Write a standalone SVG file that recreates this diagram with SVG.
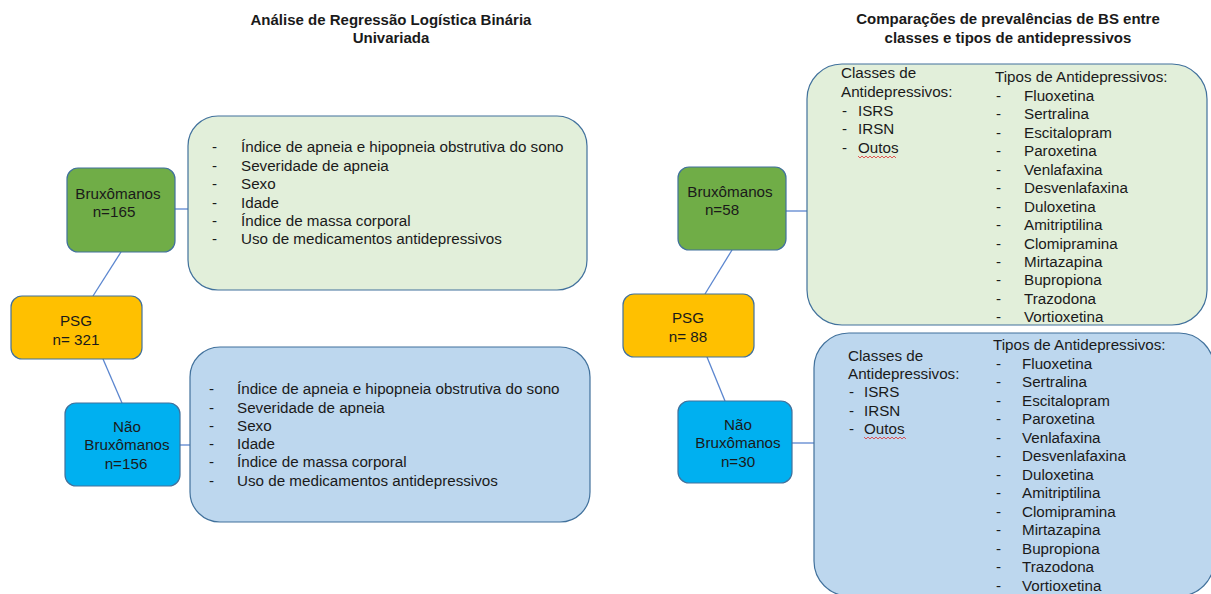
<svg xmlns="http://www.w3.org/2000/svg" width="1211" height="594" viewBox="0 0 1211 594">
<style>
text{font-family:"Liberation Sans",Arial,sans-serif;font-size:15.2px;fill:#1a1a1a}
.t{font-weight:bold;font-size:15px;text-anchor:middle}
.c{text-anchor:middle}
.box{stroke:#41719C;stroke-width:1.2}
.conn{stroke:#5B86CF;stroke-width:1.3;fill:none}
.green{fill:#70AD47}.yellow{fill:#FFC000}.cyan{fill:#00B0F0}
.pg{fill:#E2EFDA}.pb{fill:#BDD7EE}
.wave{stroke:#E03030;stroke-width:0.8;fill:none}
</style>
<rect width="1211" height="594" fill="#ffffff"/>
<g id="titles">
<text class="t" x="391" y="25">Análise de Regressão Logística Binária</text>
<text class="t" x="391" y="43">Univariada</text>
<text class="t" x="1008" y="24">Comparações de prevalências de BS entre</text>
<text class="t" x="1008" y="43">classes e tipos de antidepressivos</text>
</g>
<g id="connectors">
<line class="conn" x1="175" y1="209" x2="188" y2="209"/>
<line class="conn" x1="121" y1="252" x2="93" y2="296"/>
<line class="conn" x1="103" y1="359" x2="122" y2="403"/>
<line class="conn" x1="180" y1="445" x2="190" y2="445"/>
<line class="conn" x1="786" y1="211" x2="807" y2="211"/>
<line class="conn" x1="732" y1="250" x2="705" y2="294"/>
<line class="conn" x1="707" y1="357" x2="725" y2="401"/>
<line class="conn" x1="792" y1="443" x2="814" y2="443"/>
</g>
<g id="left-brux">
<rect class="box green" x="67" y="168" width="108" height="84" rx="11"/>
<text class="c" x="118" y="199">Bruxômanos</text>
<text class="c" x="114" y="217">n=165</text>
</g>
<g id="left-psg">
<rect class="box yellow" x="11" y="296" width="131" height="63" rx="11"/>
<text class="c" x="76" y="326">PSG</text>
<text class="c" x="76" y="345">n= 321</text>
</g>
<g id="left-nao">
<rect class="box cyan" x="65" y="403" width="115" height="83" rx="11"/>
<text class="c" x="127" y="432">Não</text>
<text class="c" x="127" y="450">Bruxômanos</text>
<text class="c" x="126" y="469">n=156</text>
</g>
<g id="left-green-panel">
<rect class="box pg" x="188" y="116" width="399" height="174" rx="30"/>
<text x="212" y="152">-</text><text x="241" y="152">Índice de apneia e hipopneia obstrutiva do sono</text>
<text x="212" y="171">-</text><text x="241" y="171">Severidade de apneia</text>
<text x="212" y="189">-</text><text x="241" y="189">Sexo</text>
<text x="212" y="208">-</text><text x="241" y="208">Idade</text>
<text x="212" y="226">-</text><text x="241" y="226">Índice de massa corporal</text>
<text x="212" y="244">-</text><text x="241" y="244">Uso de medicamentos antidepressivos</text>
</g>
<g id="left-blue-panel">
<rect class="box pb" x="190" y="347" width="400" height="175" rx="30"/>
<text x="209" y="394">-</text><text x="237" y="394">Índice de apneia e hipopneia obstrutiva do sono</text>
<text x="209" y="413">-</text><text x="237" y="413">Severidade de apneia</text>
<text x="209" y="431">-</text><text x="237" y="431">Sexo</text>
<text x="209" y="449">-</text><text x="237" y="449">Idade</text>
<text x="209" y="467">-</text><text x="237" y="467">Índice de massa corporal</text>
<text x="209" y="486">-</text><text x="237" y="486">Uso de medicamentos antidepressivos</text>
</g>
<g id="right-brux">
<rect class="box green" x="678" y="167" width="108" height="83" rx="11"/>
<text class="c" x="730" y="197">Bruxômanos</text>
<text class="c" x="722" y="215">n=58</text>
</g>
<g id="right-psg">
<rect class="box yellow" x="623" y="294" width="131" height="63" rx="11"/>
<text class="c" x="688" y="323">PSG</text>
<text class="c" x="688" y="342">n= 88</text>
</g>
<g id="right-nao">
<rect class="box cyan" x="678" y="401" width="114" height="82" rx="11"/>
<text class="c" x="738" y="430">Não</text>
<text class="c" x="738" y="448">Bruxômanos</text>
<text class="c" x="738" y="467">n=30</text>
</g>
<g id="right-green-panel">
<rect class="box pg" x="807" y="64" width="400" height="261" rx="35"/>
<text x="841" y="78">Classes de</text>
<text x="841" y="97">Antidepressivos:</text>
<text x="842" y="116">-</text><text x="858" y="116">ISRS</text>
<text x="842" y="134">-</text><text x="858" y="134">IRSN</text>
<text x="842" y="153">-</text><text x="858" y="153">Outos</text>
<path class="wave" d="M858 156 l2 2 l2 -2 l2 2 l2 -2 l2 2 l2 -2 l2 2 l2 -2 l2 2 l2 -2 l2 2 l2 -2 l2 2 l2 -2 l2 2 l2 -2 l2 2 l2 -2 l2 2"/>
<text x="995" y="82">Tipos de Antidepressivos:</text>
<text x="996" y="101">-</text><text x="1024" y="101">Fluoxetina</text>
<text x="996" y="119">-</text><text x="1024" y="119">Sertralina</text>
<text x="996" y="138">-</text><text x="1024" y="138">Escitalopram</text>
<text x="996" y="156">-</text><text x="1024" y="156">Paroxetina</text>
<text x="996" y="175">-</text><text x="1024" y="175">Venlafaxina</text>
<text x="996" y="193">-</text><text x="1024" y="193">Desvenlafaxina</text>
<text x="996" y="212">-</text><text x="1024" y="212">Duloxetina</text>
<text x="996" y="230">-</text><text x="1024" y="230">Amitriptilina</text>
<text x="996" y="249">-</text><text x="1024" y="249">Clomipramina</text>
<text x="996" y="267">-</text><text x="1024" y="267">Mirtazapina</text>
<text x="996" y="285">-</text><text x="1024" y="285">Bupropiona</text>
<text x="996" y="304">-</text><text x="1024" y="304">Trazodona</text>
<text x="996" y="322">-</text><text x="1024" y="322">Vortioxetina</text>
</g>
<g id="right-blue-panel">
<rect class="box pb" x="814" y="333" width="400" height="263" rx="35"/>
<text x="848" y="361">Classes de</text>
<text x="848" y="379">Antidepressivos:</text>
<text x="849" y="397">-</text><text x="864" y="397">ISRS</text>
<text x="849" y="416">-</text><text x="864" y="416">IRSN</text>
<text x="849" y="434">-</text><text x="864" y="434">Outos</text>
<path class="wave" d="M864 437 l2 2 l2 -2 l2 2 l2 -2 l2 2 l2 -2 l2 2 l2 -2 l2 2 l2 -2 l2 2 l2 -2 l2 2 l2 -2 l2 2 l2 -2 l2 2 l2 -2 l2 2 l2 -2 l2 2"/>
<text x="993" y="350">Tipos de Antidepressivos:</text>
<text x="996" y="369">-</text><text x="1022" y="369">Fluoxetina</text>
<text x="996" y="387">-</text><text x="1022" y="387">Sertralina</text>
<text x="996" y="406">-</text><text x="1022" y="406">Escitalopram</text>
<text x="996" y="424">-</text><text x="1022" y="424">Paroxetina</text>
<text x="996" y="443">-</text><text x="1022" y="443">Venlafaxina</text>
<text x="996" y="461">-</text><text x="1022" y="461">Desvenlafaxina</text>
<text x="996" y="480">-</text><text x="1022" y="480">Duloxetina</text>
<text x="996" y="498">-</text><text x="1022" y="498">Amitriptilina</text>
<text x="996" y="517">-</text><text x="1022" y="517">Clomipramina</text>
<text x="996" y="535">-</text><text x="1022" y="535">Mirtazapina</text>
<text x="996" y="554">-</text><text x="1022" y="554">Bupropiona</text>
<text x="996" y="572">-</text><text x="1022" y="572">Trazodona</text>
<text x="996" y="591">-</text><text x="1022" y="591">Vortioxetina</text>
</g>
</svg>
